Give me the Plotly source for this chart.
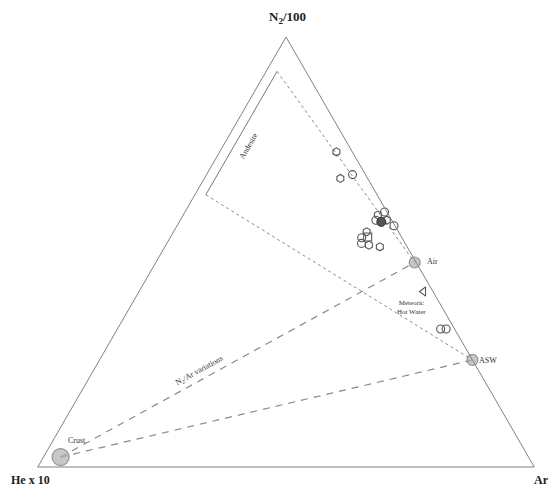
import plotly.graph_objects as go

# Sample compositions (fractions of N2/100, He x 10, Ar)
sample_n2 = [0.733, 0.671, 0.680, 0.586, 0.593, 0.574, 0.561, 0.574, 0.547, 0.533, 0.520, 0.516, 0.512, 0.535, 0.321, 0.321]
sample_he = [0.032, 0.055, 0.026, 0.022, 0.005, 0.010, 0.002, 0.032, 0.064, 0.081, 0.088, 0.075, 0.055, 0.068, 0.028, 0.017]
sample_ar = [0.235, 0.274, 0.294, 0.392, 0.402, 0.416, 0.437, 0.394, 0.389, 0.386, 0.392, 0.409, 0.433, 0.397, 0.651, 0.662]
sample_symbols = ["hexagon-open", "hexagon-open", "circle-open", "hexagon-open", "circle-open",
                  "hexagon-open", "circle-open", "circle-open", "hexagon-open", "circle-open",
                  "circle-open", "hexagon-open", "hexagon-open", "square-open", "circle-open", "circle-open"]

filled_n2 = [0.570]
filled_he = [0.023]
filled_ar = [0.407]

tri_n2 = [0.408]
tri_he = [0.019]
tri_ar = [0.573]

# End members
ref_names = ["Air", "ASW", "Crust"]
ref_n2 = [0.4756, 0.249, 0.023]
ref_he = [0.003, 0.000, 0.9425]
ref_ar = [0.5214, 0.751, 0.0345]

# Andesite field corners
andes_n2 = [0.920, 0.633]
andes_he = [0.058, 0.345]
andes_ar = [0.022, 0.022]

W, H = 558, 488
def px(x, y):
    return x / W, 1 - y / H

fig = go.Figure()

line_gray = "#8a8a8a"

# Dotted lines from andesite field to Air / ASW
fig.add_trace(go.Scatterternary(a=[andes_n2[0], ref_n2[0]], b=[andes_he[0], ref_he[0]], c=[andes_ar[0], ref_ar[0]],
                                mode="lines", line=dict(color=line_gray, width=1, dash="3px,3px"), hoverinfo="skip",
                                cliponaxis=False))
fig.add_trace(go.Scatterternary(a=[andes_n2[1], ref_n2[1]], b=[andes_he[1], ref_he[1]], c=[andes_ar[1], ref_ar[1]],
                                mode="lines", line=dict(color=line_gray, width=1, dash="3px,3px"), hoverinfo="skip",
                                cliponaxis=False))
# Andesite solid line
fig.add_trace(go.Scatterternary(a=andes_n2, b=andes_he, c=andes_ar,
                                mode="lines", line=dict(color="#777777", width=1), hoverinfo="skip",
                                cliponaxis=False))
# Dashed mixing lines Crust -> Air, Crust -> ASW
for i in (0, 1):
    fig.add_trace(go.Scatterternary(a=[ref_n2[2], ref_n2[i]], b=[ref_he[2], ref_he[i]], c=[ref_ar[2], ref_ar[i]],
                                    mode="lines", line=dict(color=line_gray, width=1.2, dash="7px,6px"),
                                    hoverinfo="skip", cliponaxis=False))

# End-member markers
fig.add_trace(go.Scatterternary(a=ref_n2, b=ref_he, c=ref_ar, mode="markers",
                                marker=dict(size=[11, 11, 17], color="#b0b0b0",
                                            line=dict(color="#666666", width=1.2)),
                                hoverinfo="skip", cliponaxis=False))

# Samples
fig.add_trace(go.Scatterternary(a=sample_n2, b=sample_he, c=sample_ar, mode="markers",
                                marker=dict(size=8, symbol=sample_symbols, color="#555555",
                                            line=dict(color="#555555", width=1.1)),
                                hoverinfo="skip", cliponaxis=False))
fig.add_trace(go.Scatterternary(a=filled_n2, b=filled_he, c=filled_ar, mode="markers",
                                marker=dict(size=9, symbol="circle", color="#555555",
                                            line=dict(color="#333333", width=1)),
                                hoverinfo="skip", cliponaxis=False))
fig.add_trace(go.Scatterternary(a=tri_n2, b=tri_he, c=tri_ar, mode="markers",
                                marker=dict(size=8, symbol="triangle-left-open", color="#555555",
                                            line=dict(color="#555555", width=1.1)),
                                hoverinfo="skip", cliponaxis=False))

axis_style = dict(showline=True, linecolor="#808080", linewidth=1, showgrid=False,
                  showticklabels=False, ticks="", title=dict(text=""), min=0)

fig.update_layout(
    width=W, height=H,
    margin=dict(l=0, r=0, t=0, b=0),
    paper_bgcolor="white",
    showlegend=False,
    ternary=dict(
        sum=1,
        bgcolor="white",
        domain=dict(x=[37 / W, 535 / W], y=[(H - 467) / H, (H - 37) / H]),
        aaxis=axis_style, baxis=axis_style, caxis=axis_style,
    ),
)

serif = "Liberation Serif"
ann = []
def add(text, x, y, size, angle=0, bold=False, color="#333333"):
    ax, ay = px(x, y)
    ann.append(dict(text=("<b>%s</b>" % text) if bold else text, x=ax, y=ay, xref="paper", yref="paper",
                    showarrow=False, textangle=angle, font=dict(family=serif, size=size, color=color),
                    xanchor="center", yanchor="middle"))

add("N<sub>2</sub>/100", 287, 17, 13, bold=True, color="#222222")
add("He x 10", 30, 480, 12, bold=True, color="#222222")
add("Ar", 541, 480, 12, bold=True, color="#222222")
add("Air", 432, 261, 8)
add("ASW", 488, 360, 8)
add("Crust", 77, 440, 8)
add("Meteoric<br>Hot Water", 411, 307, 7)
add("Andesite", 248, 146, 8, angle=-60)
add("N<sub>2</sub>/Ar variations", 199, 371, 8, angle=-29)

fig.update_layout(annotations=ann)

fig.write_html("out.html")
